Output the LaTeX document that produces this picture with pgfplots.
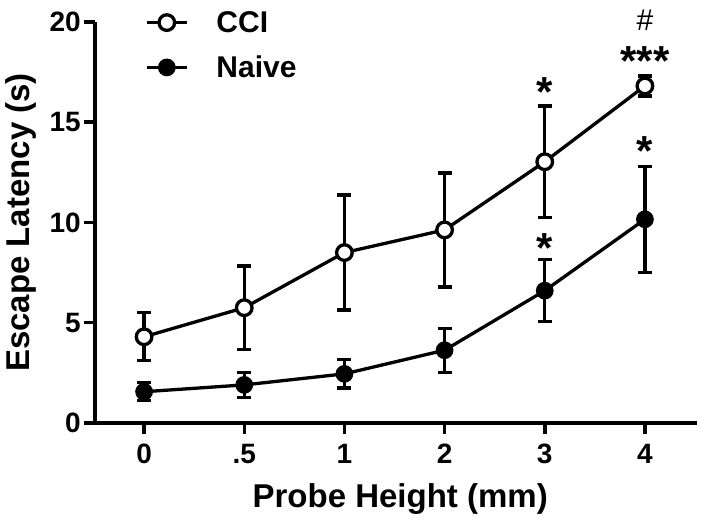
\documentclass[border=0pt]{standalone}
\usepackage{pgfplots}
\pgfplotsset{compat=1.18}
\usepackage{fontspec}
\setmainfont{Liberation Sans}
\begin{document}
\begin{tikzpicture}[x=1pt,y=1pt]
\path[use as bounding box] (0,0) rectangle (701,522);
\begin{axis}[
  at={(95pt,99pt)}, anchor=south west,
  width=602pt, height=401pt, scale only axis,
  axis lines=left,
  axis line style={-, line width=4pt},
  xmin=-0.49, xmax=5.52, ymin=0, ymax=20,
  xtick={0,1,2,3,4,5}, xticklabels={0,.5,1,2,3,4},
  ytick={0,5,10,15,20},
  tick align=outside,
  major tick length=11pt,
  every tick/.style={black, line width=3.5pt},
  /pgf/number format/assume math mode=true,
  tick label style={font=\bfseries\fontsize{28}{30}\selectfont},
  yticklabel style={inner sep=3pt},
  xticklabel style={inner sep=2pt, yshift=-8pt},
  xlabel={Probe Height (mm)},
  ylabel={Escape Latency (s)},
  label style={font=\bfseries\fontsize{33}{36}\selectfont},
  xlabel style={at={(axis description cs:0.507,-0.150)}, anchor=north, inner sep=0pt},
  ylabel style={at={(axis description cs:-0.1495,0.5)}, anchor=north, inner sep=0pt},
  clip=false,
  legend style={at={(axis description cs:0.083,1.027)}, anchor=north west,
    draw=none, fill=none, inner sep=0pt, column sep=28pt, row sep=22pt,
    font=\bfseries\fontsize{30}{32}\selectfont,
    nodes={inner sep=0pt}},
  legend cell align=left,
  legend image code/.code={\draw[mark repeat=2,mark phase=2] plot coordinates {(0pt,0pt) (20pt,0pt) (40pt,0pt)};},
  error bars/y dir=both, error bars/y explicit,
  error bars/error bar style={line width=3.3pt, black},
  error bars/error mark options={rotate=90, mark size=7pt, line width=3.3pt, black},
]
\addplot[black, line width=3.3pt, mark=*, mark size=7.8pt, mark options={fill=white, draw=black, line width=3.3pt}]
coordinates {
(0,4.3) +- (0,1.2)
(1,5.75) +- (0,2.08)
(2,8.5) +- (0,2.87)
(3,9.63) +- (0,2.84)
(4,13.03) +- (0,2.78)
(5,16.81) +- (0,0.5)
};
\addlegendentry{CCI}
\addplot[black, line width=3.3pt, mark=*, mark size=7.2pt, mark options={fill=black, draw=black, line width=3.3pt}]
coordinates {
(0,1.56) +- (0,0.45)
(1,1.9) +- (0,0.63)
(2,2.45) +- (0,0.7)
(3,3.63) +- (0,1.1)
(4,6.6) +- (0,1.55)
(5,10.16) +- (0,2.64)
};
\addlegendentry{Naive}
\node[anchor=base, inner sep=0pt, font=\bfseries\fontsize{42}{42}\selectfont] at (axis cs:4,15.81) {*};
\node[anchor=base, inner sep=0pt, font=\bfseries\fontsize{42}{42}\selectfont] at (axis cs:5,17.31) {***};
\node[anchor=base, inner sep=0pt, font=\bfseries\fontsize{42}{42}\selectfont] at (axis cs:5,12.82) {*};
\node[anchor=base, inner sep=0pt, font=\bfseries\fontsize{42}{42}\selectfont] at (axis cs:4,8.0) {*};
\node[anchor=base, inner sep=0pt, font=\fontsize{30}{30}\selectfont] at (axis cs:5,19.6) {\#};
\end{axis}
\end{tikzpicture}
\end{document}
